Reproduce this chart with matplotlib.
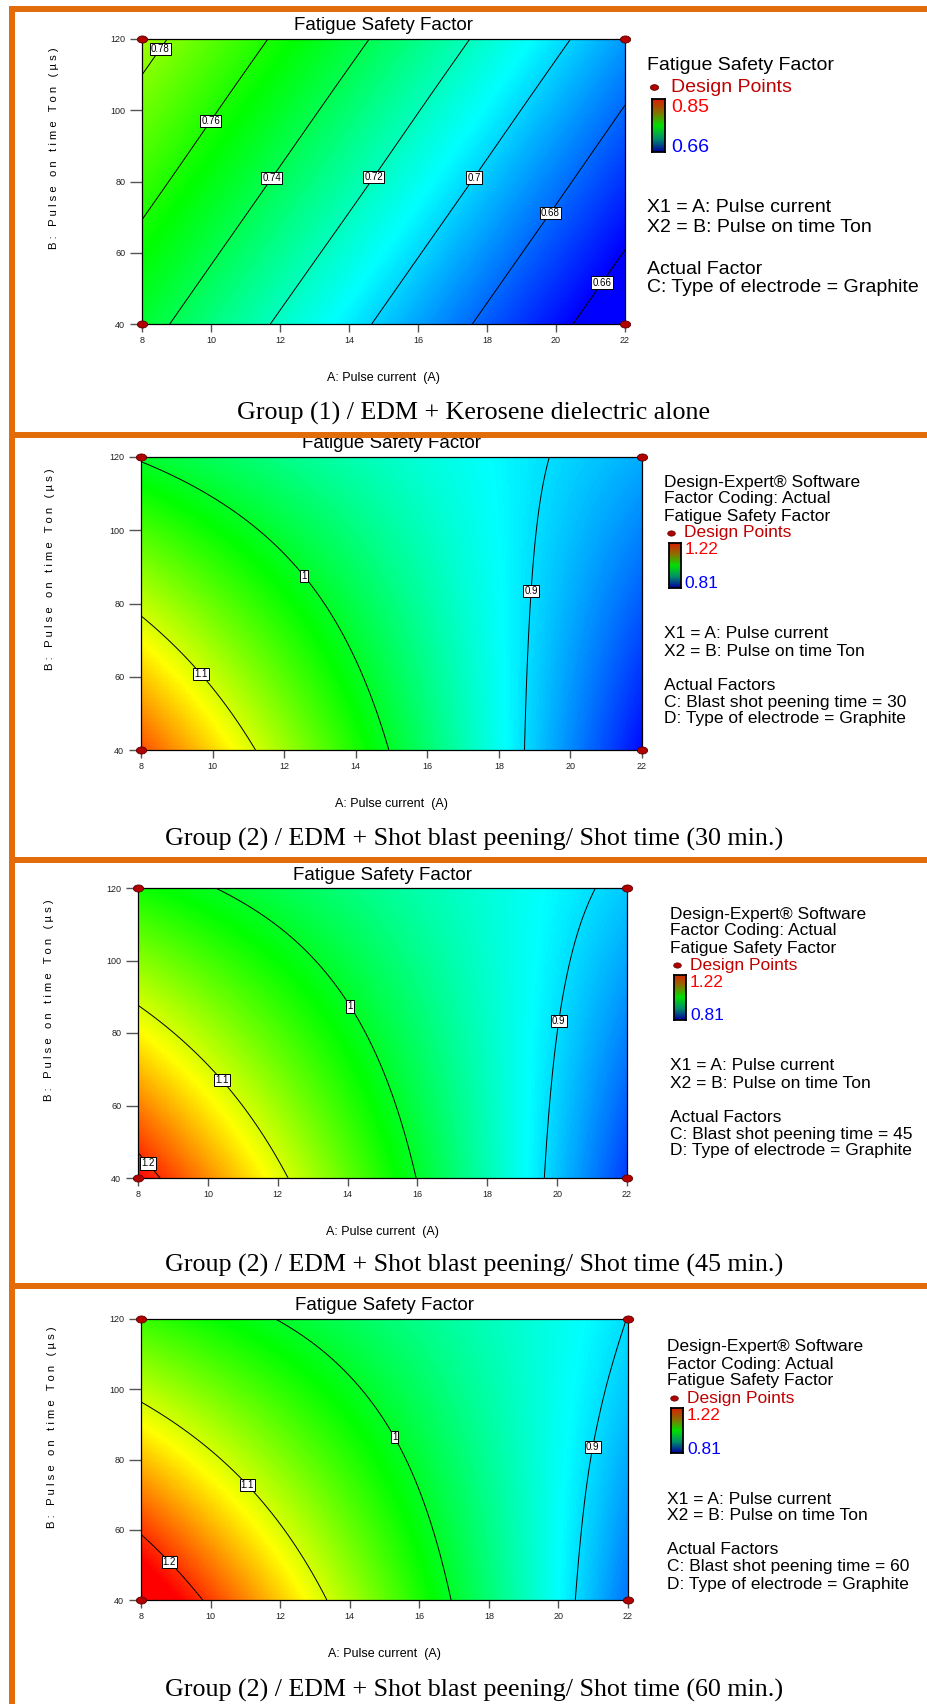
import numpy as np
import matplotlib
matplotlib.use('Agg')
import matplotlib.pyplot as plt
import matplotlib.tri as mtri
from matplotlib.colors import LinearSegmentedColormap
from matplotlib.patches import Rectangle
from matplotlib.path import Path
from matplotlib.transforms import Affine2D

# ---------------- data ----------------
A_values = [8, 10, 12, 14, 16, 18, 20, 22]          # A: Pulse current (A)
B_values = [40, 60, 80, 100, 120]                    # B: Pulse on time Ton (us)

# Fatigue safety factor on the A x B grid (rows = B, cols = A)
fsf_kerosene = [
    [0.7455, 0.7318, 0.7181, 0.7045, 0.6908, 0.6771, 0.6634, 0.6497],
    [0.7554, 0.7417, 0.7280, 0.7144, 0.7007, 0.6870, 0.6733, 0.6596],
    [0.7653, 0.7516, 0.7379, 0.7243, 0.7106, 0.6969, 0.6832, 0.6695],
    [0.7751, 0.7614, 0.7477, 0.7341, 0.7204, 0.7067, 0.6930, 0.6793],
    [0.7850, 0.7713, 0.7576, 0.7440, 0.7303, 0.7166, 0.7029, 0.6892],
]
fsf_shot30 = [
    [1.1870, 1.1325, 1.0784, 1.0247, 0.9715, 0.9188, 0.8665, 0.8147],
    [1.1395, 1.0941, 1.0491, 1.0046, 0.9605, 0.9169, 0.8737, 0.8310],
    [1.0920, 1.0557, 1.0199, 0.9845, 0.9495, 0.9150, 0.8810, 0.8474],
    [1.0445, 1.0173, 0.9906, 0.9643, 0.9385, 0.9131, 0.8882, 0.8637],
    [0.9970, 0.9789, 0.9613, 0.9442, 0.9275, 0.9112, 0.8954, 0.8800],
]
fsf_shot45 = [
    [1.2172, 1.1627, 1.1081, 1.0536, 0.9990, 0.9445, 0.8900, 0.8354],
    [1.1680, 1.1225, 1.0770, 1.0315, 0.9860, 0.9405, 0.8950, 0.8495],
    [1.1188, 1.0823, 1.0459, 1.0094, 0.9730, 0.9365, 0.9000, 0.8636],
    [1.0696, 1.0422, 1.0148, 0.9873, 0.9599, 0.9325, 0.9051, 0.8777],
    [1.0204, 1.0020, 0.9836, 0.9653, 0.9469, 0.9285, 0.9101, 0.8917],
]
fsf_shot60 = [
    [1.2496, 1.1936, 1.1376, 1.0816, 1.0256, 0.9696, 0.9136, 0.8576],
    [1.1965, 1.1497, 1.1028, 1.0560, 1.0092, 0.9623, 0.9155, 0.8686],
    [1.1435, 1.1058, 1.0681, 1.0305, 0.9928, 0.9551, 0.9174, 0.8797],
    [1.0904, 1.0619, 1.0334, 1.0048, 0.9763, 0.9478, 0.9193, 0.8908],
    [1.0374, 1.0180, 0.9987, 0.9793, 0.9600, 0.9406, 0.9212, 0.8995],
]

range_kerosene = (0.66, 0.85)
range_shot = (0.81, 1.22)
levels_kerosene = [0.66, 0.68, 0.70, 0.72, 0.74, 0.76, 0.78]
levels_shot = [0.9, 1.0, 1.1, 1.2]

design_A = [8, 8, 22, 22]
design_B = [40, 120, 40, 120]

x_ticks = [8, 10, 12, 14, 16, 18, 20, 22]
y_ticks = [40, 60, 80, 100, 120]

captions = [
    "Group (1) / EDM + Kerosene dielectric alone",
    "Group (2) / EDM + Shot blast peening/ Shot time (30 min.)",
    "Group (2) / EDM + Shot blast peening/ Shot time (45 min.)",
    "Group (2) / EDM + Shot blast peening/ Shot time (60 min.)",
]
shot_times = ["30", "45", "60"]

# ---------------- figure helpers ----------------
W, H = 928, 1704
fig = plt.figure(figsize=(W / 100, H / 100), dpi=100)
fig.patch.set_facecolor('white')

SANS = ['Liberation Sans', 'DejaVu Sans']
SERIF = ['Liberation Serif', 'DejaVu Serif']


def fx(x):
    return x / W


def fy(y):
    return 1 - y / H


def px_axes(l, t, r, b):
    return fig.add_axes([l / W, 1 - b / H, (r - l) / W, (b - t) / H])


def ftext(x, y, s, **kw):
    kw.setdefault('family', SANS)
    kw.setdefault('va', 'center')
    kw.setdefault('ha', 'left')
    fig.text(fx(x), fy(y), s, **kw)


cmap = LinearSegmentedColormap.from_list(
    'de', ['#0000FF', '#00FFFF', '#00FF00', '#FFFF00', '#FF0000'])
bar_cmap = LinearSegmentedColormap.from_list(
    'bar', ['#0000A0', '#00906A', '#00E000', '#8A7000', '#D82000'])
ellipse = Affine2D().scale(1.45, 1.0).transform_path(Path.unit_circle())

# interpolation of the grid through matplotlib.tri
nA, nB = len(A_values), len(B_values)
gu, gv = np.meshgrid(np.arange(nA, dtype=float), np.arange(nB, dtype=float))
tris = []
for j in range(nB - 1):
    for i in range(nA - 1):
        k = j * nA + i
        tris.append([k, k + 1, k + nA + 1])
        tris.append([k, k + nA + 1, k + nA])
triang = mtri.Triangulation(gu.ravel(), gv.ravel(), np.array(tris))
fu = np.linspace(1e-6, nA - 1 - 1e-6, 320)
fv = np.linspace(1e-6, nB - 1 - 1e-6, 220)
FU, FV = np.meshgrid(fu, fv)
FA = np.interp(FU, np.arange(nA), A_values)
FB = np.interp(FV, np.arange(nB), B_values)


def smooth(z):
    interp = mtri.CubicTriInterpolator(triang, np.asarray(z, float).ravel(), kind='min_E')
    return interp(FU, FV)


# ---------------- panels ----------------
panels = [
    dict(z=fsf_kerosene, rng=range_kerosene, levels=levels_kerosene,
         box=(142, 39, 625, 324), ylab=(54, 148), cap_y=413,
         labels=[(8.48, 117.6), (9.92, 97.5), (11.69, 81.5), (14.66, 81.7),
                 (17.57, 81.5), (19.78, 71.5), (21.29, 51.9)]),
    dict(z=fsf_shot30, rng=range_shot, levels=levels_shot,
         box=(141, 457, 642, 750), ylab=(50, 569), cap_y=839,
         labels=[(9.76, 61.4), (12.74, 89.1), (18.98, 83.4)]),
    dict(z=fsf_shot45, rng=range_shot, levels=levels_shot,
         box=(138, 888, 627, 1178), ylab=(49, 1000), cap_y=1265,
         labels=[(8.37, 44.8), (10.45, 67.5), (14.1, 87.5), (19.97, 83.5)]),
    dict(z=fsf_shot60, rng=range_shot, levels=levels_shot,
         box=(141, 1319, 628, 1600), ylab=(52, 1427), cap_y=1690,
         labels=[(8.9, 51.6), (11.14, 73.5), (15.34, 86.6), (20.95, 83.7)]),
]

ylabel_text = ' '.join(list("B: Pulse on time Ton (\u00b5s)"))

for idx, p in enumerate(panels):
    l, t, r, b = p['box']
    ax = px_axes(l, t, r, b)
    FZ = smooth(p['z'])
    vmin, vmax = p['rng']
    ax.imshow(FZ, extent=(A_values[0], A_values[-1], B_values[0], B_values[-1]),
              origin='lower', aspect='auto', cmap=cmap, vmin=vmin, vmax=vmax,
              interpolation='nearest')
    cs = ax.contour(FA, FB, FZ, levels=p['levels'], colors='black', linewidths=0.7)
    txts = ax.clabel(cs, inline=False, fontsize=7, manual=p['labels'],
                     fmt=lambda v: f'{v:g}')
    for tt in txts:
        tt.set_rotation(0)
        tt.set_family(SANS)
        tt.set_bbox(dict(boxstyle='square,pad=0.12', facecolor='white',
                         edgecolor='black', linewidth=0.7))
        tt.set_zorder(6)
    ax.plot(design_A, design_B, linestyle='none', marker=ellipse, markersize=7.4,
            markerfacecolor='#B00000', markeredgecolor='#5A0000',
            markeredgewidth=0.6, clip_on=False, zorder=8)
    ax.set_xlim(A_values[0], A_values[-1])
    ax.set_ylim(B_values[0], B_values[-1])
    ax.set_xticks(x_ticks)
    ax.set_yticks(y_ticks)
    ax.set_xticklabels([str(v) for v in x_ticks], family=SANS)
    ax.set_yticklabels([str(v) for v in y_ticks], family=SANS)
    ax.tick_params(axis='x', direction='out', length=5.8, width=1.0, color='#555555',
                   pad=2.5, labelsize=6.5, labelcolor='#222222')
    ax.tick_params(axis='y', direction='out', length=8.6, width=1.0, color='#555555',
                   pad=3.5, labelsize=6.5, labelcolor='#222222')
    for sp in ax.spines.values():
        sp.set_linewidth(0.9)
        sp.set_color('black')
    cx = (l + r) / 2
    ftext(cx, t - 13, "Fatigue Safety Factor", ha='center', fontsize=13.5)
    ftext(cx, b + 54, "A: Pulse current  (A)", ha='center', fontsize=9)
    ftext(p['ylab'][0], p['ylab'][1], ylabel_text, ha='center', rotation=90,
          fontsize=8.1)
    ftext(474, p['cap_y'], captions[idx], ha='center', fontsize=18.7, family=SERIF)

# ---------------- legends ----------------
def colorbar_px(l, t, r, b):
    cax = px_axes(l, t, r, b)
    grad = np.linspace(0, 1, 100).reshape(-1, 1)
    cax.imshow(grad, origin='lower', aspect='auto', cmap=bar_cmap)
    cax.set_xticks([])
    cax.set_yticks([])
    for sp in cax.spines.values():
        sp.set_linewidth(1.3)
        sp.set_color('black')


def legend_dot(x, y, ms):
    fig.add_artist(plt.Line2D([fx(x)], [fy(y)], linestyle='none', marker=ellipse,
                              markersize=ms, markerfacecolor='#B00000',
                              markeredgecolor='#5A0000', markeredgewidth=0.5,
                              transform=fig.transFigure))


# panel 1 legend
fs1 = 14
ftext(647, 66, "Fatigue Safety Factor", fontsize=fs1)
legend_dot(654, 87, 6.0)
ftext(671, 87, "Design Points", fontsize=fs1, color='#C00000')
colorbar_px(652, 99, 665, 152)
ftext(671, 107, f"{range_kerosene[1]:g}", fontsize=fs1, color='#FF0000')
ftext(671, 147, f"{range_kerosene[0]:g}", fontsize=fs1, color='#0000FF')
ftext(647, 208, "X1 = A: Pulse current", fontsize=fs1)
ftext(647, 228, "X2 = B: Pulse on time Ton", fontsize=fs1)
ftext(647, 269, "Actual Factor", fontsize=fs1)
ftext(647, 288, "C: Type of electrode = Graphite", fontsize=fs1)

# panels 2-4 legends
fs2 = 12.5
for (lx, ly), st in zip([(664.5, 482), (670, 914), (667, 1347)], shot_times):
    ftext(lx, ly, "Design-Expert\u00ae Software", fontsize=fs2)
    ftext(lx, ly + 17, "Factor Coding: Actual", fontsize=fs2)
    ftext(lx, ly + 34, "Fatigue Safety Factor", fontsize=fs2)
    legend_dot(lx + 7, ly + 51, 5.5)
    ftext(lx + 20, ly + 51, "Design Points", fontsize=fs2, color='#C00000')
    colorbar_px(lx + 4, ly + 61, lx + 16, ly + 106)
    ftext(lx + 20, ly + 68, f"{range_shot[1]:g}", fontsize=fs2, color='#FF0000')
    ftext(lx + 20, ly + 102, f"{range_shot[0]:g}", fontsize=fs2, color='#0000FF')
    ftext(lx, ly + 152, "X1 = A: Pulse current", fontsize=fs2)
    ftext(lx, ly + 169, "X2 = B: Pulse on time Ton", fontsize=fs2)
    ftext(lx, ly + 203, "Actual Factors", fontsize=fs2)
    ftext(lx, ly + 220, f"C: Blast shot peening time = {st}", fontsize=fs2)
    ftext(lx, ly + 237, "D: Type of electrode = Graphite", fontsize=fs2)

# ---------------- orange frame ----------------
ORANGE = '#E36C0A'
bars = [(9, 6, W, 12), (9, 6, 15, H), (9, 432, W, 438), (9, 857.5, W, 863.5),
        (9, 1282.5, W, 1288.5)]
for x0, y0, x1, y1 in bars:
    fig.add_artist(Rectangle((fx(x0), fy(y1)), (x1 - x0) / W, (y1 - y0) / H,
                             transform=fig.transFigure, facecolor=ORANGE,
                             edgecolor='none', zorder=20))

fig.savefig('out.png', dpi=100, facecolor='white')
